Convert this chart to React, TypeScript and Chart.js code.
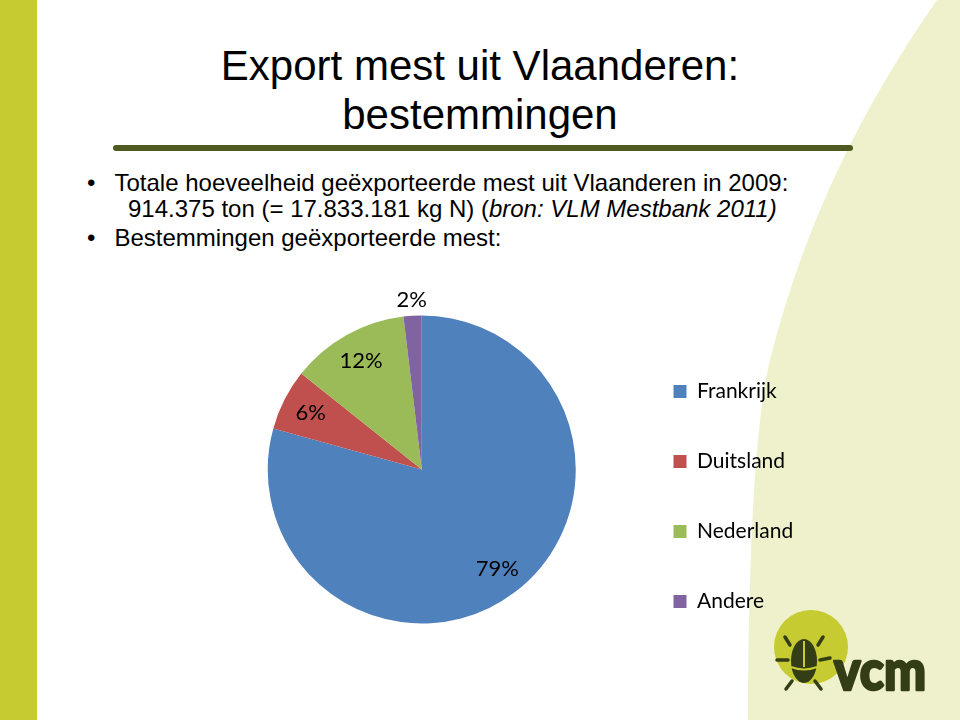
import React, { useEffect, useRef } from "react";
import { Chart, registerables } from "chart.js";

Chart.register(...registerables);

// ---- data ----
const categories: string[] = ["Frankrijk", "Duitsland", "Nederland", "Andere"];
const shares: number[] = [79.3, 6.4, 12.4, 1.9];
const sliceColors: string[] = ["#4F81BD", "#C0504D", "#9BBB59", "#8064A2"];

const titleLines: string[] = ["Export mest uit Vlaanderen:", "bestemmingen"];
const bullet1Line1 = "Totale hoeveelheid geëxporteerde mest uit Vlaanderen in 2009:";
const bullet1Line2Plain = "914.375 ton (= 17.833.181 kg N) (";
const bullet1Line2Italic = "bron: VLM Mestbank 2011)";
const bullet2 = "Bestemmingen geëxporteerde mest:";
const logoText = "vcm";

// ---- layout constants ----
const CHART_FONT = 'Lato, "Open Sans", sans-serif';
const LEGEND_SIZE = 21;
const LEGEND_PAD = 49;
const LABEL_SIZE = 22;
const CANVAS_LEFT = 219;
const CANVAS_TOP = 270;
const CANVAS_W = 960 - CANVAS_LEFT;
const CANVAS_H = 399;
const LEGEND_BOX_X = 673.5; // page x of legend swatches
const FIRST_ITEM_CENTER = 391.4; // page y
const PIE_RADIUS = 154;

const pieLabels = {
  id: "pieLabels",
  afterDatasetsDraw(chart: any) {
    const meta = chart.getDatasetMeta(0);
    const data = chart.data.datasets[0].data as number[];
    const total = data.reduce((a, b) => a + b, 0);
    const ctx = chart.ctx as CanvasRenderingContext2D;
    ctx.save();
    ctx.font = `${LABEL_SIZE}px ${CHART_FONT}`;
    ctx.fillStyle = "#000000";
    ctx.textAlign = "center";
    ctx.textBaseline = "middle";
    meta.data.forEach((arc: any, i: number) => {
      const p = arc.getProps(["x", "y", "startAngle", "endAngle", "outerRadius"], true);
      const mid = (p.startAngle + p.endAngle) / 2;
      const pct = (data[i] / total) * 100;
      const r = pct < 4 ? p.outerRadius * 1.1 : p.outerRadius * 0.81;
      ctx.fillText(`${Math.round(pct)}%`, p.x + Math.cos(mid) * r, p.y + Math.sin(mid) * r);
    });
    ctx.restore();
  },
};

function PieChart() {
  const ref = useRef<HTMLCanvasElement | null>(null);
  useEffect(() => {
    if (!ref.current) return;
    const colH = categories.length * (LEGEND_SIZE + LEGEND_PAD);
    const cursorY = FIRST_ITEM_CENTER - CANVAS_TOP - LEGEND_SIZE / 2;
    const titleH = 2 * cursorY - LEGEND_PAD - CANVAS_H + colH;
    const titleFontLH = 12 * 1.2;
    const chart = new Chart(ref.current, {
      type: "pie",
      data: {
        labels: categories,
        datasets: [
          {
            data: shares,
            backgroundColor: sliceColors,
            borderWidth: 0,
            radius: PIE_RADIUS,
          } as any,
        ],
      },
      options: {
        responsive: false,
        animation: false,
        layout: { padding: 0 },
        plugins: {
          legend: {
            display: true,
            position: "right",
            align: "center",
            title: {
              display: true,
              text: "",
              padding: { top: 0, bottom: Math.max(0, titleH - titleFontLH) },
              font: { size: 12, lineHeight: 1.2 },
            },
            labels: {
              boxWidth: 13,
              boxHeight: 13,
              padding: LEGEND_PAD,
              color: "#000000",
              font: { family: CHART_FONT, size: LEGEND_SIZE },
            },
          },
          tooltip: { enabled: false },
        },
      } as any,
      plugins: [pieLabels],
    });
    const desiredLeft = LEGEND_BOX_X - CANVAS_LEFT - LEGEND_PAD;
    const shift = (chart as any).legend.left - desiredLeft;
    (chart.options as any).layout = { padding: { right: Math.max(0, shift) } };
    chart.update();
    return () => chart.destroy();
  }, []);
  return (
    <canvas
      ref={ref}
      width={CANVAS_W}
      height={CANVAS_H}
      style={{ position: "absolute", left: CANVAS_LEFT, top: CANVAS_TOP, display: "block" }}
    />
  );
}

function Background() {
  const dark = "#333D16";
  const lime = "#C5CB30";
  return (
    <svg
      width={960}
      height={720}
      style={{ position: "absolute", left: 0, top: 0 }}
      xmlns="http://www.w3.org/2000/svg"
    >
      <rect x={0} y={0} width={960} height={720} fill="#FFFFFF" />
      <path
        d="M937 0 C853 120 800 240 770 360 C755 420 748 560 748 720 L960 720 L960 0 Z"
        fill="#EFF0CC"
      />
      <rect x={0} y={0} width={37} height={720} fill={lime} />
      <line x1={116} y1={148} x2={850} y2={148} stroke="#4F5A20" strokeWidth={6} strokeLinecap="round" />
      {/* logo */}
      <circle cx={811} cy={647} r={37} fill={lime} />
      <g stroke={dark} strokeWidth={3.5} strokeLinecap="round">
        <line x1={785} y1={637} x2={790} y2={645} />
        <line x1={823} y1={637} x2={818} y2={645} />
        <line x1={777} y1={660} x2={788} y2={660} />
        <line x1={820} y1={660} x2={830} y2={658} />
        <line x1={786} y1={689} x2={792} y2={681} />
        <line x1={821} y1={689} x2={815} y2={681} />
      </g>
      <ellipse cx={804} cy={661} rx={13} ry={22} fill={dark} />
      <line x1={804} y1={641} x2={804} y2={667} stroke={lime} strokeWidth={2} />
      <path d="M791 667 Q804 672 817 667" stroke={lime} strokeWidth={2} fill="none" />
      <text
        x={834}
        y={690}
        fill={dark}
        stroke={dark}
        strokeWidth={2.5}
        strokeLinejoin="round"
        fontFamily="Lato, 'Open Sans', sans-serif"
        fontWeight={900}
        fontSize={55}
        textLength={92}
        lengthAdjust="spacingAndGlyphs"
      >
        {logoText}
      </text>
    </svg>
  );
}

export default function App() {
  const textFont = '"Liberation Sans", Arial, Helvetica, sans-serif';
  return (
    <div
      style={{
        position: "absolute",
        left: 0,
        top: 0,
        width: 960,
        height: 720,
        overflow: "hidden",
        background: "#FFFFFF",
        fontFamily: textFont,
        color: "#000000",
      }}
    >
      <Background />
      <div
        style={{
          position: "absolute",
          left: 0,
          top: 41,
          width: 960,
          textAlign: "center",
          fontSize: 42,
          lineHeight: "49px",
          whiteSpace: "nowrap",
        }}
      >
        {titleLines.map((t) => (
          <div key={t}>{t}</div>
        ))}
      </div>
      <div style={{ position: "absolute", left: 0, top: 0, fontSize: 24, lineHeight: "26px", whiteSpace: "nowrap" }}>
        <div style={{ position: "absolute", left: 87, top: 170.4 }}>•</div>
        <div style={{ position: "absolute", left: 114.5, top: 170.4 }}>{bullet1Line1}</div>
        <div style={{ position: "absolute", left: 128, top: 196.4 }}>
          {bullet1Line2Plain}
          <i>{bullet1Line2Italic}</i>
        </div>
        <div style={{ position: "absolute", left: 87, top: 224.7 }}>•</div>
        <div style={{ position: "absolute", left: 114.5, top: 224.7 }}>{bullet2}</div>
      </div>
      <PieChart />
    </div>
  );
}
